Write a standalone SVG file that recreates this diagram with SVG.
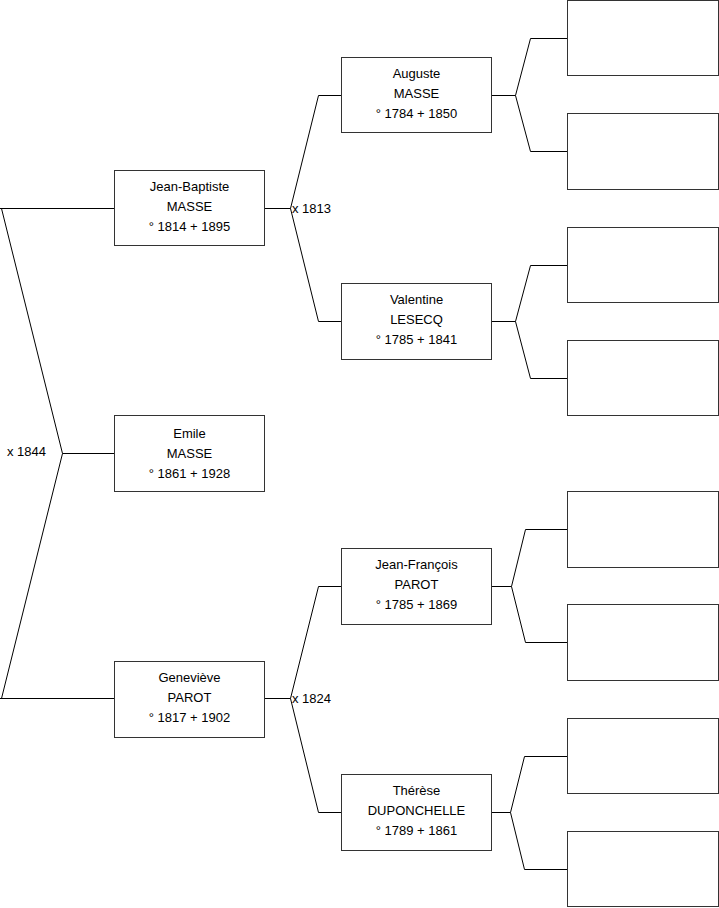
<svg xmlns="http://www.w3.org/2000/svg" width="719" height="908" viewBox="0 0 719 908">
<style>
.box{fill:#fff;stroke:#333;stroke-width:1}
.ln{fill:none;stroke:#000;stroke-width:1}
text{font-family:"Liberation Sans",Arial,sans-serif;font-size:13px;fill:#000}
.c{text-anchor:middle}
</style>
<rect width="719" height="908" fill="#fff"/>
<g id="connectors">
<polyline class="ln" points="0,208.5 114,208.5"/>
<polyline class="ln" points="0,698.5 114,698.5"/>
<polyline class="ln" points="1.5,208.5 62.5,453.5 1.5,698.5"/>
<polyline class="ln" points="62.5,453.5 114,453.5"/>
<polyline class="ln" points="265,208.5 290.5,208.5"/>
<polyline class="ln" points="341,95.5 318.5,95.5 290.5,208.5 318.5,321.5 341,321.5"/>
<polyline class="ln" points="265,698.5 290.5,698.5"/>
<polyline class="ln" points="341,586.5 318.5,586.5 290.5,698.5 318.5,812.5 341,812.5"/>
<polyline class="ln" points="492,95.5 515.5,95.5"/>
<polyline class="ln" points="568,38.5 530.5,38.5 515.5,95.5 530.5,151.5 568,151.5"/>
<polyline class="ln" points="492,321.5 515.5,321.5"/>
<polyline class="ln" points="568,265.5 530.5,265.5 515.5,321.5 530.5,378.5 568,378.5"/>
<polyline class="ln" points="492,586.5 511.5,586.5"/>
<polyline class="ln" points="568,529.5 525.5,529.5 511.5,586.5 525.5,642.5 568,642.5"/>
<polyline class="ln" points="492,812.5 510.5,812.5"/>
<polyline class="ln" points="568,756.5 524.5,756.5 510.5,812.5 524.5,869.5 568,869.5"/>
<text x="292" y="213">x 1813</text>
<text x="292" y="703">x 1824</text>
<text x="7" y="456">x 1844</text>
</g>
<g id="jean-baptiste">
<rect class="box" x="114.5" y="170.5" width="150" height="75"/>
<text class="c" x="189.5" y="190.5">Jean-Baptiste</text>
<text class="c" x="189.5" y="210.5">MASSE</text>
<text class="c" x="189.5" y="230.5">° 1814 + 1895</text>
</g>
<g id="emile">
<rect class="box" x="114.5" y="415.5" width="150" height="76"/>
<text class="c" x="189.5" y="437.5">Emile</text>
<text class="c" x="189.5" y="457.5">MASSE</text>
<text class="c" x="189.5" y="477.5">° 1861 + 1928</text>
</g>
<g id="genevieve">
<rect class="box" x="114.5" y="661.5" width="150" height="76"/>
<text class="c" x="189.5" y="681.5">Geneviève</text>
<text class="c" x="189.5" y="701.5">PAROT</text>
<text class="c" x="189.5" y="721.5">° 1817 + 1902</text>
</g>
<g id="auguste">
<rect class="box" x="341.5" y="57.5" width="150" height="75"/>
<text class="c" x="416.5" y="77.5">Auguste</text>
<text class="c" x="416.5" y="97.5">MASSE</text>
<text class="c" x="416.5" y="117.5">° 1784 + 1850</text>
</g>
<g id="valentine">
<rect class="box" x="341.5" y="283.5" width="150" height="76"/>
<text class="c" x="416.5" y="303.5">Valentine</text>
<text class="c" x="416.5" y="323.5">LESECQ</text>
<text class="c" x="416.5" y="343.5">° 1785 + 1841</text>
</g>
<g id="jean-francois">
<rect class="box" x="341.5" y="548.5" width="150" height="76"/>
<text class="c" x="416.5" y="568.5">Jean-François</text>
<text class="c" x="416.5" y="588.5">PAROT</text>
<text class="c" x="416.5" y="608.5">° 1785 + 1869</text>
</g>
<g id="therese">
<rect class="box" x="341.5" y="774.5" width="150" height="76"/>
<text class="c" x="416.5" y="794.5">Thérèse</text>
<text class="c" x="416.5" y="814.5">DUPONCHELLE</text>
<text class="c" x="416.5" y="834.5">° 1789 + 1861</text>
</g>
<g id="p1"><rect class="box" x="567.5" y="0.5" width="151" height="75"/></g>
<g id="p2"><rect class="box" x="567.5" y="113.5" width="151" height="76"/></g>
<g id="p3"><rect class="box" x="567.5" y="227.5" width="151" height="75"/></g>
<g id="p4"><rect class="box" x="567.5" y="340.5" width="151" height="75"/></g>
<g id="p5"><rect class="box" x="567.5" y="491.5" width="151" height="76"/></g>
<g id="p6"><rect class="box" x="567.5" y="604.5" width="151" height="76"/></g>
<g id="p7"><rect class="box" x="567.5" y="718.5" width="151" height="75"/></g>
<g id="p8"><rect class="box" x="567.5" y="831.5" width="151" height="75"/></g>
</svg>
